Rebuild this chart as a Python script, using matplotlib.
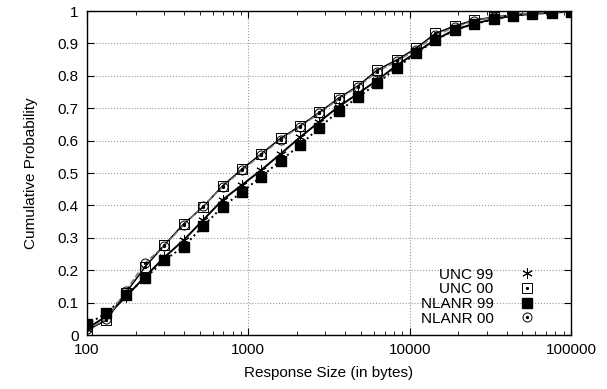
import numpy as np
import matplotlib
matplotlib.use("Agg")
import matplotlib.pyplot as plt
from matplotlib.legend_handler import HandlerTuple

plt.rcParams['font.family'] = ['Liberation Sans', 'DejaVu Sans']

# response size bins (bytes)
sizes = [100, 132, 174, 229, 302, 398, 525, 692, 912, 1202, 1585, 2089, 2754,
         3631, 4786, 6310, 8318, 10965, 14454, 19055, 25119, 33113, 43652,
         57544, 75858, 100000]

unc99 = [0.020, 0.058, 0.118, 0.180, 0.240, 0.293, 0.355, 0.417, 0.463, 0.509,
         0.559, 0.610, 0.658, 0.705, 0.745, 0.787, 0.832, 0.872, 0.912, 0.942,
         0.961, 0.975, 0.986, 0.991, 0.995, 0.998]
unc00 = [0.015, 0.046, 0.130, 0.210, 0.278, 0.343, 0.396, 0.460, 0.512, 0.559,
         0.607, 0.645, 0.687, 0.731, 0.769, 0.818, 0.849, 0.885, 0.931, 0.954,
         0.972, 0.981, 0.988, 0.993, 0.996, 0.998]
nlanr99 = [0.033, 0.067, 0.123, 0.175, 0.231, 0.273, 0.336, 0.396, 0.441, 0.489,
           0.538, 0.586, 0.640, 0.691, 0.734, 0.777, 0.825, 0.869, 0.910, 0.941,
           0.960, 0.974, 0.986, 0.991, 0.995, 0.998]
nlanr00 = [0.018, 0.048, 0.136, 0.222, 0.276, 0.340, 0.398, 0.458, 0.508, 0.556,
           0.603, 0.643, 0.684, 0.728, 0.766, 0.813, 0.845, 0.880, 0.925, 0.950,
           0.970, 0.980, 0.988, 0.993, 0.996, 0.998]

labels = ['UNC 99', 'UNC 00', 'NLANR 99', 'NLANR 00']

fig = plt.figure(figsize=(6.07, 3.89), dpi=100)
ax = fig.add_axes([0.1433, 0.1388, 0.7974, 0.8329])

ax.plot(sizes, unc99, '-', color='black', lw=1.4, zorder=2)
ax.plot(sizes, unc00, '-', color='black', lw=1.1, zorder=2)
ax.plot(sizes, nlanr99, ':', color='black', lw=1.4, zorder=2)
ax.plot(sizes, nlanr00, '--', color='#777777', lw=1.1, zorder=2)

ms = 6.5
h1 = ax.plot(sizes, unc99, ls='none', marker=(6, 2, 0), ms=ms + 1,
             mec='black', mew=0.7, zorder=3)[0]
h2 = ax.plot(sizes, unc00, ls='none', marker='s', ms=ms, mfc='none',
             mec='black', mew=0.7, zorder=3)[0]
h3 = ax.plot(sizes, nlanr99, ls='none', marker='s', ms=ms, mfc='black',
             mec='black', zorder=3)[0]
h4 = ax.plot(sizes, nlanr00, ls='none', marker='o', ms=ms, mfc='none',
             mec='black', mew=0.7, zorder=3)[0]
d2 = ax.plot(sizes, unc00, ls='none', marker='o', ms=1.3, mfc='black',
             mec='black', zorder=3)[0]
d4 = ax.plot(sizes, nlanr00, ls='none', marker='o', ms=1.3, mfc='black',
             mec='black', zorder=3)[0]

ax.set_xscale('log')
ax.set_xlim(100, 100000)
ax.set_ylim(0, 1)
ax.set_yticks(np.arange(0, 1.01, 0.1))
ax.set_yticklabels(['0', '0.1', '0.2', '0.3', '0.4', '0.5', '0.6', '0.7',
                    '0.8', '0.9', '1'])
ax.set_xticks([100, 1000, 10000, 100000])
ax.set_xticklabels(['100', '1000', '10000', '100000'])
ax.tick_params(which='both', direction='in', top=True, right=True,
               labelsize=11, pad=6)
ax.tick_params(which='major', length=5)
ax.tick_params(which='minor', length=3)
ax.grid(True, which='major', ls=':', color='#999999', lw=0.8)
for s in ax.spines.values():
    s.set_linewidth(1.0)

ax.set_xlabel('Response Size (in bytes)', fontsize=11, labelpad=6)
ax.set_ylabel('Cumulative Probability', fontsize=11, labelpad=14)

leg_h = [(h1,), (h2, d2), (h3,), (h4, d4)]
leg = ax.legend(leg_h, labels, loc='lower right', markerfirst=False,
                frameon=False, fontsize=11, handlelength=1.2,
                handletextpad=1.6, labelspacing=0.05, borderaxespad=0.2,
                bbox_to_anchor=(0.947, 0.0),
                handler_map={tuple: HandlerTuple(ndivide=1)})
for t in leg.get_texts():
    t.set_ha('right')

fig.savefig('out.png', dpi=100)
